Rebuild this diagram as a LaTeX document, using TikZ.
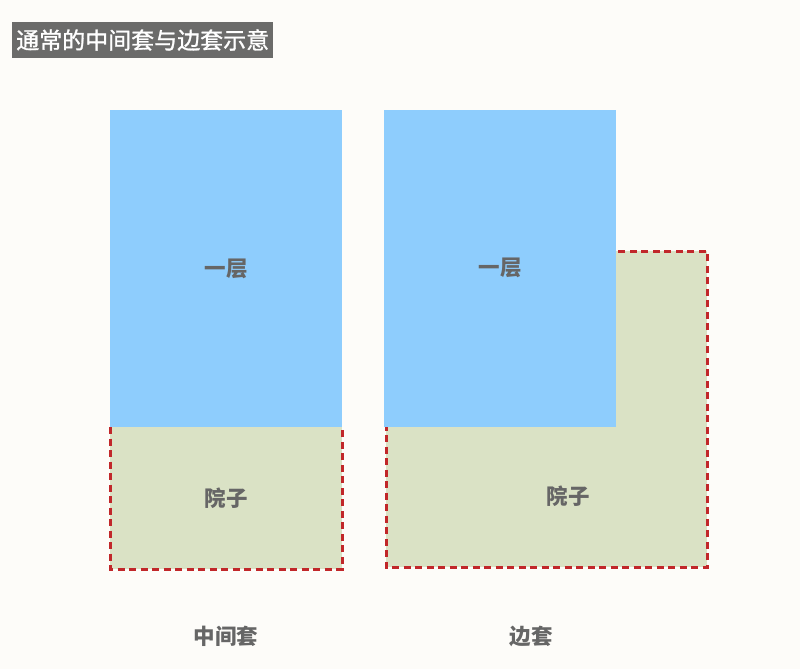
\documentclass[tikz,border=0pt]{standalone}
\usepackage{fontspec}
\newfontfamily\cjk{Noto Sans CJK SC}
\newfontfamily\cjkmed[FakeBold=1.2]{Noto Sans CJK SC}
\definecolor{bgc}{HTML}{FDFCF9}
\definecolor{floorc}{HTML}{8ECDFD}
\definecolor{yardc}{HTML}{DAE2C5}
\definecolor{dashc}{HTML}{C1272A}
\definecolor{titlec}{HTML}{6B6B6A}
\definecolor{labelc}{HTML}{666666}
\tikzset{
  lbl/.style={font=\cjk\bfseries\fontsize{21.5}{24}\selectfont, text=labelc, inner sep=0pt},
  border/.style={draw=dashc, line width=3pt, dash pattern=on 7pt off 4.5pt},
}
\begin{document}
\begin{tikzpicture}[x=1pt,y=-1pt]
\fill[bgc] (0,0) rectangle (800,669);
\useasboundingbox (0,0) rectangle (800,669);
% title
\node[fill=titlec, text=white, font=\cjkmed\fontsize{23}{26}\selectfont, anchor=west, minimum height=36pt, inner xsep=4pt] (title) at (12,40) {通常的中间套与边套示意};
% left: middle unit
\fill[yardc] (110,427) rectangle (342,569);
\fill[floorc] (110,110) rectangle (342,427);
\draw[border] (110,427) -- (110,569) -- (342,569) -- (342,427);
% right: edge unit
\fill[yardc] (386,251) rectangle (707,567);
\draw[border] (386,251) rectangle (707,567);
\fill[floorc] (384,110) rectangle (616,427);
% labels
\node[lbl] (f1) at (226,269) {一层};
\node[lbl] (y1) at (226,498) {院子};
\node[lbl] (f2) at (500,268) {一层};
\node[lbl] (y2) at (568,496) {院子};
\node[lbl] (c1) at (226,636) {中间套};
\node[lbl] (c2) at (531,636) {边套};
\end{tikzpicture}
\end{document}
